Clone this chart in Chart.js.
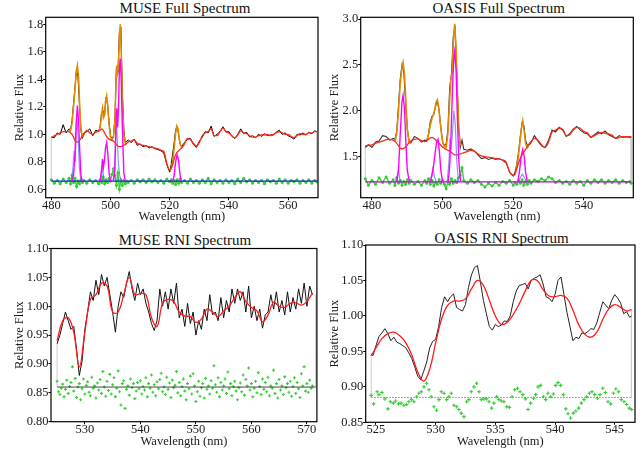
<!DOCTYPE html>
<html>
<head>
<meta charset="utf-8">
<script src="https://cdn.jsdelivr.net/npm/chart.js@4.4.1/dist/chart.umd.min.js"></script>
<style>
  body { margin: 0; background: #fff; width: 643px; height: 451px; position: relative; overflow: hidden; font-family: 'Liberation Serif', 'Times New Roman', serif; }
  canvas { position: absolute; }
  .ttl { position: absolute; font-size: 15px; line-height: 15px; color: #111; white-space: nowrap; transform: translateX(-50%); }
</style>
</head>
<body>
<div class="ttl" style="left:185px; top:0.7px">MUSE Full Spectrum</div>
<div class="ttl" style="left:498.7px; top:1.4px">OASIS Full Spectrum</div>
<div class="ttl" style="left:185px; top:233.1px">MUSE RNI Spectrum</div>
<div class="ttl" style="left:501.7px; top:230.7px">OASIS RNI Spectrum</div>
<canvas id="museFull" width="322" height="228" style="left:0; top:0"></canvas>
<canvas id="oasisFull" width="322" height="228" style="left:320px; top:0"></canvas>
<canvas id="museRni" width="322" height="226" style="left:0; top:225px"></canvas>
<canvas id="oasisRni" width="322" height="226" style="left:320px; top:225px"></canvas>
<script>
// ── MUSE full spectrum ───────────────────────────────────────────────────────
const museFullWave = [480, 481, 482, 483, 484, 485, 486,
  486.5, 487, 487.5, 488, 488.5, 489, 489.5, 490, 490.5, 491,
  492, 493, 494, 495, 496,
  496.5, 497, 497.5, 498, 498.5, 499, 499.5, 500, 500.5, 501, 501.5, 502, 502.5, 503, 503.5, 504, 504.5, 505, 505.5, 506,
  507, 508, 509, 510, 511, 512, 513, 514, 515, 516, 517, 518, 519, 520,
  520.5, 521, 521.5, 522, 522.5, 523, 523.5, 524,
  525, 526, 527, 528, 529, 530, 531, 532, 533, 534, 535, 536, 537, 538, 539, 540, 541, 542, 543, 544, 545, 546,
  547, 548, 549, 550, 551, 552, 553, 554, 555, 556, 557, 558, 559, 560, 561, 562, 563, 564, 565, 566, 567, 568, 569, 569.7];
const museFullFlux = [0.98, 0.975, 1.01, 1.00, 1.07, 1.01, 1.04,
  1.03, 1.10, 1.22, 1.34, 1.47, 1.42, 1.22, 1.03, 0.97, 1.01,
  1.02, 1.04, 0.99, 1.03, 1.02,
  1.06, 1.16, 1.17, 1.14, 1.27, 1.22, 1.09, 0.99, 0.96, 0.99, 1.12, 1.49, 1.45, 1.74, 1.78, 1.30, 1.03, 0.94, 0.95, 0.96,
  0.94, 0.965, 0.92, 0.93, 0.91, 0.92, 0.90, 0.91, 0.895, 0.89, 0.88, 0.865, 0.78, 0.725,
  0.78, 0.86, 0.94, 1.03, 1.06, 1.00, 0.93, 0.91,
  0.94, 0.965, 0.97, 0.925, 0.905, 0.95, 0.98, 1.02, 1.01, 1.06, 0.985, 1.00, 1.02, 1.055, 1.015, 1.02, 0.985, 0.97, 1.00, 1.04, 1.005, 1.015,
  0.98, 0.99, 0.975, 1.00, 0.985, 1.005, 0.99, 0.995, 0.995, 1.015, 1.03, 1.00, 1.01, 0.99, 0.98, 0.965, 1.00, 0.995, 1.01, 0.995, 1.015, 1.005, 1.025, 1.02];
const museFullCont = [0.975, 0.99, 1.00, 1.01, 1.02, 1.02, 1.02,
  1.01, 1.00, 0.98, 0.955, 0.945, 0.945, 0.955, 0.97, 0.985, 1.00,
  1.03, 1.01, 1.00, 1.015, 1.025,
  1.03, 1.04, 1.03, 1.01, 0.99, 0.975, 0.965, 0.96, 0.955, 0.95, 0.94, 0.925, 0.915, 0.91, 0.91, 0.915, 0.92, 0.925, 0.935, 0.945,
  0.95, 0.96, 0.935, 0.925, 0.92, 0.915, 0.91, 0.905, 0.90, 0.895, 0.885, 0.875, 0.79, 0.74,
  0.75, 0.78, 0.82, 0.85, 0.87, 0.88, 0.89, 0.90,
  0.93, 0.97, 0.96, 0.935, 0.915, 0.94, 0.99, 1.01, 1.02, 1.04, 0.99, 0.99, 1.02, 1.045, 1.02, 1.01, 0.99, 0.975, 0.995, 1.025, 1.01, 1.005,
  0.99, 0.98, 0.98, 0.99, 0.995, 0.995, 1.00, 0.99, 1.00, 1.01, 1.02, 1.01, 1.00, 1.00, 0.985, 0.975, 0.99, 1.005, 1.00, 1.00, 1.01, 1.01, 1.02, 1.02];
const museFullResid = [0.67, 0.645, 0.665, 0.64, 0.675, 0.65, 0.68,
  0.64, 0.70, 0.65, 0.68, 0.62, 0.66, 0.64, 0.67, 0.65, 0.665,
  0.645, 0.67, 0.65, 0.665, 0.64,
  0.67, 0.65, 0.69, 0.64, 0.67, 0.65, 0.68, 0.66, 0.71, 0.75, 0.70, 0.63, 0.72, 0.60, 0.67, 0.63, 0.665, 0.64, 0.66, 0.65,
  0.665, 0.645, 0.67, 0.655, 0.67, 0.65, 0.675, 0.655, 0.67, 0.65, 0.665, 0.645, 0.675, 0.655,
  0.67, 0.645, 0.665, 0.635, 0.67, 0.645, 0.675, 0.65,
  0.665, 0.645, 0.675, 0.65, 0.665, 0.645, 0.67, 0.65, 0.68, 0.64, 0.67, 0.65, 0.665, 0.645, 0.67, 0.65, 0.665, 0.64, 0.675, 0.65, 0.68, 0.655,
  0.67, 0.645, 0.665, 0.65, 0.665, 0.64, 0.67, 0.655, 0.665, 0.645, 0.675, 0.65, 0.67, 0.645, 0.665, 0.655, 0.67, 0.645, 0.665, 0.65, 0.67, 0.645, 0.665, 0.655];
const museFullTotalWave = [486, 486.5, 487, 487.5, 488, 488.4, 488.8, 489.2, 489.6, 490, 490.5, 491, 493,
  496, 496.5, 497, 497.3, 497.6, 498, 498.3, 498.7, 499.1, 499.5, 500, 500.5, 501, 501.5, 501.8, 502.1, 502.4, 502.7, 503.0, 503.3, 503.6, 504.0, 504.5, 505, 505.5, 512,
  520, 520.5, 521, 521.5, 522, 522.4, 522.8, 523.2, 523.6, 524, 524.5];
const museFullTotal = [1.02, 1.03, 1.08, 1.20, 1.33, 1.45, 1.50, 1.42, 1.20, 1.04, 0.985, 1.00, null,
  1.025, 1.05, 1.15, 1.19, 1.12, 1.14, 1.24, 1.28, 1.20, 1.07, 0.98, 0.96, 0.98, 1.10, 1.35, 1.50, 1.45, 1.50, 1.72, 1.80, 1.62, 1.25, 1.00, 0.93, 0.935, null,
  0.74, 0.75, 0.80, 0.90, 1.01, 1.06, 1.04, 0.97, 0.925, 0.905, 0.91];
const museFullLineWave = [487, 487.5, 488, 488.4, 488.8, 489.2, 489.6, 490, 490.5, 493,
  496.5, 497, 497.3, 497.6, 498, 498.3, 498.7, 499.1, 499.5, 500, 500.5,
  501, 501.5, 501.8, 502.1, 502.4, 502.7, 503.0, 503.3, 503.6, 504.0, 504.5, 505, 512,
  521, 521.5, 522, 522.5, 523, 523.5, 524];
const museFullLine = [0.66, 0.70, 0.86, 1.08, 1.21, 1.10, 0.88, 0.70, 0.66, null,
  0.66, 0.75, 0.82, 0.76, 0.82, 0.90, 0.94, 0.86, 0.72, 0.66, null,
  0.66, 0.75, 1.05, 1.19, 1.05, 1.20, 1.48, 1.55, 1.40, 1.05, 0.72, 0.66, null,
  0.66, 0.70, 0.80, 0.85, 0.81, 0.70, 0.66];
const museFullBroadWave = [486.8, 487.3, 487.7, 488.1, 488.6, 489, 489.5, 490, 493,
  496.8, 497.2, 497.6, 498, 499,
  500.8, 501.3, 501.7, 502.0, 502.3, 502.7, 503.1, 503.5];
const museFullBroad = [0.66, 0.75, 0.88, 0.80, 1.14, 1.00, 0.75, 0.66, null,
  0.66, 0.76, 0.70, 0.66, null,
  0.66, 0.72, 0.95, 1.12, 0.95, 0.78, 0.70, 0.66];
const museFullBaseWave = [480, 569.7];
const museFullBase = [0.66, 0.66];
const museFullEdgeWave = [480, 480, 480, 569.7, 569.7];
const museFullEdge = [0.66, 0.975, null, 1.02, 0.66];
const museFullXTicks = [480, 500, 520, 540, 560];
const museFullYTicks = [0.6, 0.8, 1.0, 1.2, 1.4, 1.6, 1.8];

// ── OASIS full spectrum ──────────────────────────────────────────────────────
const oasisFullWave = [478.1, 479, 480, 481, 482, 483, 484, 485, 486,
  486.5, 487, 487.5, 488, 488.5, 489, 489.5, 490, 490.5, 491,
  492, 493, 494, 495,
  495.5, 496, 496.5, 497, 497.5, 498, 498.5, 499, 499.5, 500, 500.5, 501, 501.5, 502, 502.5, 503, 503.5, 504, 504.5, 505, 505.5, 506,
  507, 508, 509, 510, 511, 512, 513, 514, 515, 516, 517, 518, 519, 520,
  520.5, 521, 521.5, 522, 522.5, 523, 523.5, 524, 524.5, 525,
  526, 527, 528, 529, 530, 531, 532, 533, 534, 535, 536, 537, 538, 539, 540, 541, 542, 543, 544, 545, 546, 547, 548, 549, 550, 551, 552, 553, 553.4];
const oasisFullFlux = [1.60, 1.63, 1.60, 1.66, 1.67, 1.73, 1.72, 1.68, 1.70,
  1.69, 1.78, 2.05, 2.35, 2.50, 2.42, 2.10, 1.80, 1.66, 1.65,
  1.72, 1.70, 1.66, 1.68,
  1.67, 1.75, 1.88, 1.94, 1.96, 2.05, 2.11, 2.00, 1.82, 1.66, 1.62, 1.64, 1.80, 2.25, 2.40, 2.80, 2.93, 2.40, 1.85, 1.60, 1.68, 1.58,
  1.57, 1.585, 1.56, 1.52, 1.48, 1.49, 1.47, 1.485, 1.47, 1.48, 1.46, 1.43, 1.33, 1.29,
  1.33, 1.42, 1.55, 1.72, 1.87, 1.84, 1.68, 1.62, 1.63, 1.65,
  1.73, 1.67, 1.62, 1.60, 1.68, 1.79, 1.77, 1.82, 1.79, 1.72, 1.75, 1.80, 1.83, 1.79, 1.76, 1.75, 1.71, 1.74, 1.77, 1.75, 1.78, 1.74, 1.72, 1.70, 1.73, 1.71, 1.72, 1.71, 1.72];
const oasisFullCont = [1.62, 1.625, 1.63, 1.645, 1.66, 1.67, 1.685, 1.69, 1.68,
  1.665, 1.645, 1.62, 1.595, 1.585, 1.59, 1.605, 1.63, 1.65, 1.67,
  1.69, 1.695, 1.675, 1.665,
  1.675, 1.69, 1.705, 1.71, 1.70, 1.685, 1.665, 1.645, 1.625, 1.605, 1.59, 1.58, 1.57, 1.56, 1.545, 1.53, 1.52, 1.52, 1.525, 1.53, 1.535, 1.545,
  1.555, 1.57, 1.56, 1.53, 1.51, 1.50, 1.495, 1.49, 1.48, 1.475, 1.465, 1.44, 1.33, 1.295,
  1.31, 1.37, 1.43, 1.48, 1.52, 1.55, 1.58, 1.61, 1.64, 1.665,
  1.70, 1.68, 1.63, 1.60, 1.66, 1.77, 1.79, 1.81, 1.80, 1.73, 1.74, 1.79, 1.82, 1.81, 1.775, 1.76, 1.715, 1.73, 1.75, 1.765, 1.755, 1.75, 1.735, 1.70, 1.71, 1.72, 1.715, 1.72, 1.72];
const oasisFullResid = [1.26, 1.19, 1.24, 1.20, 1.27, 1.22, 1.28, 1.21, 1.25,
  1.19, 1.27, 1.21, 1.24, 1.19, 1.23, 1.20, 1.25, 1.21, 1.24,
  1.20, 1.23, 1.19, 1.24,
  1.21, 1.26, 1.20, 1.24, 1.18, 1.22, 1.20, 1.25, 1.21, 1.24, 1.20, 1.15, 1.23, 1.20, 1.26, 1.21, 1.24, 1.22, 1.27, 1.30, 1.38, 1.24,
  1.21, 1.25, 1.22, 1.24, 1.20, 1.17, 1.21, 1.18, 1.22, 1.19, 1.23, 1.21, 1.24, 1.19,
  1.22, 1.20, 1.24, 1.21, 1.25, 1.19, 1.23, 1.20, 1.24, 1.21,
  1.25, 1.23, 1.26, 1.24, 1.28, 1.26, 1.22, 1.24, 1.21, 1.23, 1.20, 1.24, 1.21, 1.23, 1.19, 1.24, 1.21, 1.25, 1.22, 1.25, 1.21, 1.24, 1.22, 1.25, 1.21, 1.24, 1.22, 1.23, 1.21];
const oasisFullTotalWave = [486.5, 487, 487.5, 488, 488.5, 488.8, 489.2, 489.6, 490, 490.5, 491, 493,
  495.5, 496, 496.5, 497, 497.4, 497.8, 498.2, 498.5, 498.9, 499.3, 499.7, 500.1, 500.5, 501, 501.5, 501.9, 502.3, 502.7, 503.1, 503.4, 503.8, 504.2, 504.6, 505, 512,
  520.8, 521.3, 521.8, 522.3, 522.7, 523.1, 523.5, 524, 524.4];
const oasisFullTotal = [1.67, 1.75, 2.00, 2.30, 2.48, 2.53, 2.40, 2.10, 1.80, 1.66, 1.66, null,
  1.68, 1.74, 1.84, 1.92, 1.96, 2.02, 2.10, 2.12, 2.04, 1.88, 1.74, 1.65, 1.61, 1.60, 1.75, 2.05, 2.33, 2.42, 2.80, 2.95, 2.70, 2.20, 1.80, 1.62, null,
  1.36, 1.45, 1.62, 1.80, 1.89, 1.78, 1.64, 1.60, 1.62];
const oasisFullLineWave = [487, 487.5, 488, 488.5, 488.8, 489.2, 489.6, 490, 490.6, 493,
  496.5, 497, 497.5, 497.9, 498.3, 498.7, 499.1, 499.5, 500, 501,
  501.6, 502, 502.4, 502.8, 503.2, 503.4, 503.8, 504.2, 504.6, 505.1, 512,
  521.3, 521.8, 522.3, 522.7, 523.1, 523.5, 524];
const oasisFullLine = [1.225, 1.35, 1.75, 2.10, 2.17, 2.02, 1.65, 1.35, 1.225, null,
  1.225, 1.30, 1.42, 1.55, 1.66, 1.69, 1.55, 1.35, 1.225, null,
  1.225, 1.40, 1.75, 2.25, 2.60, 2.65, 2.45, 1.90, 1.45, 1.225, null,
  1.225, 1.35, 1.52, 1.58, 1.50, 1.33, 1.225];
const oasisFullBroadWave = [486.8, 487.2, 487.5, 487.9, 488.4, 493,
  496.5, 497, 497.3, 497.7, 498.2, 500,
  501.3, 501.8, 502.1, 502.4, 502.8, 503.2, 503.6, 504.0, 504.5, 512,
  521.3, 522, 522.6, 523.2, 523.8];
const oasisFullBroad = [1.225, 1.30, 1.36, 1.25, 1.225, null,
  1.225, 1.32, 1.38, 1.28, 1.225, null,
  1.225, 1.45, 1.70, 1.60, 1.75, 2.00, 1.85, 1.45, 1.225, null,
  1.225, 1.27, 1.31, 1.27, 1.225];
const oasisFullBaseWave = [478.1, 553.4];
const oasisFullBase = [1.225, 1.225];
const oasisFullEdgeWave = [478.1, 478.1, 478.1, 553.4, 553.4];
const oasisFullEdge = [1.225, 1.62, null, 1.72, 1.225];
const oasisFullXTicks = [480, 500, 520, 540];
const oasisFullYTicks = [1.5, 2.0, 2.5, 3.0];

// ── MUSE RNI spectrum ────────────────────────────────────────────────────────
const museRniWave = [525, 525.5, 526, 526.5, 527, 527.5, 528, 528.5, 529, 529.5,
  530, 530.5, 531, 531.5, 532, 532.5, 533, 533.5, 534, 534.5,
  535, 535.5, 536, 536.5, 537, 537.5, 538, 538.5, 539, 539.5,
  540, 540.5, 541, 541.5, 542, 542.5, 543, 543.5, 544, 544.5,
  545, 545.5, 546, 546.5, 547, 547.5, 548, 548.5, 549, 549.5,
  550, 550.5, 551, 551.5, 552, 552.5, 553, 553.5, 554, 554.5,
  555, 555.5, 556, 556.5, 557, 557.5, 558, 558.5, 559, 559.5,
  560, 560.5, 561, 561.5, 562, 562.5, 563, 563.5, 564, 564.5,
  565, 565.5, 566, 566.5, 567, 567.5, 568, 568.5, 569, 569.5,
  570, 570.5, 571];
const museRniFlux = [0.935, 0.95, 0.97, 0.99, 0.975, 0.96, 0.965, 0.925, 0.88, 0.905,
  0.96, 0.99, 1.025, 1.01, 1.045, 1.02, 1.055, 1.035, 1.05, 1.02,
  0.99, 0.955, 1.00, 1.025, 1.015, 1.04, 1.06, 1.03, 1.01, 1.04,
  1.02, 1.03, 1.005, 0.99, 0.97, 0.958, 0.975, 1.03, 1.0, 1.025,
  0.995, 1.03, 1.005, 1.04, 0.98, 0.995, 0.965, 1.005, 0.97, 0.99,
  0.95, 0.975, 0.96, 0.995, 0.975, 1.02, 0.985, 0.99, 0.975, 1.015,
  0.98, 1.01, 0.99, 1.03, 1.005, 1.03, 1.01, 1.025, 0.99, 1.035,
  0.98, 1.0, 0.975, 0.995, 0.962, 0.985, 0.99, 1.02, 0.995, 1.025,
  0.99, 1.01, 0.985, 1.025, 0.99, 1.015, 0.995, 1.03, 1.005, 1.04,
  1.0, 1.035, 1.02];
const museRniContWave = [525, 526, 527, 528, 529, 530, 531, 532, 533, 534, 535, 536, 537, 538, 539, 540,
  541, 542, 543, 544, 545, 546, 547, 548, 549, 550, 551, 552, 553, 554, 555, 556,
  557, 558, 559, 560, 561, 562, 563, 564, 565, 566, 567, 568, 569, 570, 571];
const museRniCont = [0.94, 0.975, 0.98, 0.955, 0.895, 0.955, 1.012, 1.02, 1.04, 1.035, 0.99, 0.99, 1.02, 1.05, 1.02, 1.022,
  1.02, 0.98, 0.965, 1.005, 1.012, 1.008, 0.99, 0.983, 0.982, 0.972, 0.978, 0.995, 0.99, 0.982, 0.992, 1.00,
  1.015, 1.025, 1.008, 0.998, 0.992, 0.973, 0.985, 1.007, 1.0, 0.998, 1.005, 1.006, 1.002, 1.008, 1.023];
const museRniResidWave = [525, 525.25, 525.5, 525.75, 526, 526.25, 526.5, 526.75, 527, 527.25,
  527.5, 527.75, 528, 528.25, 528.5, 528.75, 529, 529.25, 529.5, 529.75,
  530, 530.25, 530.5, 530.75, 531, 531.25, 531.5, 531.75, 532, 532.25,
  532.5, 532.75, 533, 533.25, 533.5, 533.75, 534, 534.25, 534.5, 534.75,
  535, 535.25, 535.5, 535.75, 536, 536.25, 536.5, 536.75, 537, 537.25,
  537.5, 537.75, 538, 538.25, 538.5, 538.75, 539, 539.25, 539.5, 539.75,
  540, 540.25, 540.5, 540.75, 541, 541.25, 541.5, 541.75, 542, 542.25,
  542.5, 542.75, 543, 543.25, 543.5, 543.75, 544, 544.25, 544.5, 544.75,
  545, 545.25, 545.5, 545.75, 546, 546.25, 546.5, 546.75, 547, 547.25,
  547.5, 547.75, 548, 548.25, 548.5, 548.75, 549, 549.25, 549.5, 549.75,
  550, 550.25, 550.5, 550.75, 551, 551.25, 551.5, 551.75, 552, 552.25,
  552.5, 552.75, 553, 553.25, 553.5, 553.75, 554, 554.25, 554.5, 554.75,
  555, 555.25, 555.5, 555.75, 556, 556.25, 556.5, 556.75, 557, 557.25,
  557.5, 557.75, 558, 558.25, 558.5, 558.75, 559, 559.25, 559.5, 559.75,
  560, 560.25, 560.5, 560.75, 561, 561.25, 561.5, 561.75, 562, 562.25,
  562.5, 562.75, 563, 563.25, 563.5, 563.75, 564, 564.25, 564.5, 564.75,
  565, 565.25, 565.5, 565.75, 566, 566.25, 566.5, 566.75, 567, 567.25,
  567.5, 567.75, 568, 568.25, 568.5, 568.75, 569, 569.25, 569.5, 569.75,
  570, 570.25, 570.5, 570.75, 571];
const museRniResid = [0.870, 0.852, 0.847, 0.858, 0.865, 0.843, 0.856, 0.872, 0.849, 0.861,
  0.868, 0.895, 0.853, 0.875, 0.842, 0.860, 0.866, 0.838, 0.857, 0.874,
  0.848, 0.863, 0.869, 0.851, 0.845, 0.877, 0.858, 0.862, 0.841, 0.867,
  0.855, 0.873, 0.849, 0.887, 0.860, 0.844, 0.870, 0.854, 0.882, 0.848,
  0.864, 0.876, 0.843, 0.858, 0.888, 0.852, 0.829, 0.866, 0.871, 0.823,
  0.856, 0.862, 0.846, 0.874, 0.859, 0.866, 0.840, 0.853, 0.868, 0.857,
  0.871, 0.848, 0.861, 0.855, 0.876, 0.843, 0.866, 0.858, 0.881, 0.851,
  0.864, 0.845, 0.869, 0.857, 0.873, 0.884, 0.852, 0.860, 0.847, 0.877,
  0.856, 0.867, 0.842, 0.872, 0.859, 0.863, 0.887, 0.850, 0.868, 0.845,
  0.861, 0.874, 0.853, 0.838, 0.866, 0.857, 0.879, 0.848, 0.883, 0.862,
  0.835, 0.852, 0.870, 0.844, 0.859, 0.866, 0.841, 0.875, 0.856, 0.862,
  0.848, 0.871, 0.858, 0.897, 0.864, 0.851, 0.876, 0.843, 0.868, 0.855,
  0.862, 0.874, 0.849, 0.886, 0.857, 0.866, 0.845, 0.861, 0.870, 0.853,
  0.838, 0.859, 0.867, 0.852, 0.881, 0.846, 0.873, 0.862, 0.893, 0.855,
  0.866, 0.843, 0.858, 0.870, 0.850, 0.885, 0.861, 0.847, 0.874, 0.856,
  0.868, 0.852, 0.877, 0.845, 0.862, 0.858, 0.889, 0.849, 0.866, 0.841,
  0.873, 0.855, 0.862, 0.847, 0.878, 0.859, 0.866, 0.851, 0.870, 0.844,
  0.861, 0.876, 0.849, 0.868, 0.857, 0.842, 0.883, 0.862, 0.895, 0.853,
  0.866, 0.851, 0.872, 0.858, 0.862];
const museRniBaseWave = [525, 571.6];
const museRniBase = [0.86, 0.86];
const museRniEdgeWave = [525, 525, 525, 571.6, 571.6];
const museRniEdge = [0.86, 0.935, null, 1.02, 0.86];
const museRniXTicks = [530, 540, 550, 560, 570];
const museRniYTicks = [0.80, 0.85, 0.90, 0.95, 1.00, 1.05, 1.10];

// ── OASIS RNI spectrum ───────────────────────────────────────────────────────
const oasisRniWave = [524.6, 524.75, 525, 525.25, 525.5, 525.75, 526, 526.25, 526.5, 526.75,
  527, 527.25, 527.5, 527.75, 528, 528.25, 528.5, 528.75, 529, 529.25,
  529.5, 529.75, 530, 530.25, 530.5, 530.75, 531, 531.25, 531.5, 531.75,
  532, 532.25, 532.5, 532.75, 533, 533.25, 533.5, 533.75, 534, 534.25,
  534.5, 534.75, 535, 535.25, 535.5, 535.75, 536, 536.25, 536.5, 536.75,
  537, 537.25, 537.5, 537.75, 538, 538.25, 538.5, 538.75, 539, 539.25,
  539.5, 539.75, 540, 540.25, 540.5, 540.75, 541, 541.25, 541.5, 541.75,
  542, 542.25, 542.5, 542.75, 543, 543.25, 543.5, 543.75, 544, 544.25,
  544.5, 544.75, 545, 545.25, 545.5, 545.75, 546, 546.25, 546.4];
const oasisRniFlux = [0.946, 0.944, 0.958, 0.971, 0.976, 0.982, 0.975, 0.965, 0.970, 0.963,
  0.961, 0.958, 0.955, 0.948, 0.940, 0.928, 0.915, 0.910, 0.922, 0.935,
  0.955, 0.964, 0.967, 0.985, 1.012, 1.027, 1.020, 1.027, 1.031, 1.012,
  1.009, 1.007, 1.016, 1.040, 1.058, 1.068, 1.071, 1.048, 1.022, 1.003,
  0.985, 0.980, 0.988, 0.985, 0.987, 0.993, 0.992, 1.000, 1.020, 1.035,
  1.043, 1.044, 1.046, 1.038, 1.050, 1.053, 1.055, 1.058, 1.045, 1.027,
  1.025, 1.020, 1.030, 1.050, 1.055, 1.030, 1.005, 0.985, 0.965, 0.970,
  0.968, 0.976, 0.975, 0.978, 0.982, 0.981, 0.990, 1.005, 1.020, 1.015,
  1.010, 1.022, 1.030, 1.025, 1.018, 1.003, 1.006, 0.998, 1.000];
const oasisRniContWave = [524.6, 525, 525.5, 526, 526.5, 527, 527.5, 528, 528.5, 529, 529.5, 530, 530.5, 531, 531.5,
  532, 532.5, 533, 533.5, 534, 534.5, 535, 535.5, 536, 536.5, 537, 537.5, 538, 538.5, 539,
  539.5, 540, 540.5, 541, 541.5, 542, 542.5, 543, 543.5, 544, 544.5, 545, 545.5, 546, 546.4];
const oasisRniCont = [0.944, 0.955, 0.968, 0.975, 0.977, 0.972, 0.962, 0.945, 0.921, 0.908, 0.925, 0.962, 0.996, 1.015, 1.021,
  1.021, 1.024, 1.038, 1.050, 1.043, 1.022, 1.000, 0.988, 0.991, 1.002, 1.017, 1.035, 1.050, 1.050, 1.037,
  1.028, 1.027, 1.029, 1.025, 1.008, 0.987, 0.974, 0.970, 0.977, 0.995, 1.010, 1.016, 1.012, 1.007, 1.009];
const oasisRniResidWave = [524.6, 524.8, 525.1, 525.25, 525.5, 525.75, 526.0, 526.2, 526.45, 526.64,
  526.9, 527.1, 527.34, 527.57, 527.76, 527.98, 528.18, 528.4, 528.6, 528.8,
  529.02, 529.24, 529.44, 529.63, 529.86, 530.08, 530.28, 530.47, 530.7, 530.92,
  531.1, 531.31, 531.53, 531.76, 531.95, 532.15, 532.37, 532.6, 532.79, 532.98,
  533.21, 533.43, 533.63, 533.82, 534.05, 534.27, 534.47, 534.69, 534.88, 535.11,
  535.3, 535.5, 535.72, 535.95, 536.17, 536.4, 536.62, 536.85, 537.07, 537.3,
  537.52, 537.74, 537.96, 538.19, 538.38, 538.58, 538.8, 539.02, 539.22, 539.41,
  539.64, 539.86, 540.06, 540.25, 540.47, 540.7, 540.9, 541.09, 541.3, 541.53,
  541.75, 541.98, 542.2, 542.43, 542.65, 542.87, 543.1, 543.32, 543.55, 543.77,
  544.0, 544.22, 544.44, 544.67, 544.89, 545.1, 545.33, 545.55, 545.78, 546.0,
  546.22, 546.42];
const oasisRniResid = [0.888, 0.876, 0.893, 0.889, 0.892, 0.883, 0.869, 0.879, 0.877, 0.880,
  0.876, 0.877, 0.874, 0.875, 0.879, 0.882, 0.879, 0.886, 0.891, 0.893,
  0.900, 0.905, 0.896, 0.886, 0.872, 0.867, 0.882, 0.893, 0.891, 0.882,
  0.886, 0.891, 0.874, 0.872, 0.868, 0.863, 0.858, 0.879, 0.882, 0.893,
  0.900, 0.905, 0.893, 0.882, 0.883, 0.883, 0.879, 0.870, 0.877, 0.886,
  0.882, 0.880, 0.879, 0.872, 0.871, 0.886, 0.896, 0.898, 0.893, 0.889,
  0.883, 0.868, 0.877, 0.884, 0.889, 0.900, 0.902, 0.886, 0.882, 0.891,
  0.886, 0.890, 0.902, 0.906, 0.902, 0.889, 0.869, 0.862, 0.856, 0.863,
  0.866, 0.870, 0.877, 0.882, 0.886, 0.891, 0.893, 0.889, 0.884, 0.889,
  0.898, 0.892, 0.879, 0.876, 0.891, 0.897, 0.893, 0.882, 0.879, 0.875,
  0.870, 0.868];
const oasisRniBaseWave = [524.6, 546.4];
const oasisRniBase = [0.885, 0.885];
const oasisRniEdgeWave = [524.6, 524.6, 524.6, 546.4, 546.4];
const oasisRniEdge = [0.885, 0.944, null, 1.009, 0.885];
const oasisRniXTicks = [525, 530, 535, 540, 545];
const oasisRniYTicks = [0.85, 0.90, 0.95, 1.00, 1.05, 1.10];

// ── shared chart plumbing ────────────────────────────────────────────────────
Chart.defaults.font.family = "'Liberation Serif', 'Times New Roman', serif";
Chart.defaults.color = '#1a1a1a';

const xy = (xs, ys) => xs.map((x, i) => ({ x, y: ys[i] }));

const line = (data, color, width, extra = {}) => ({
  data, borderColor: color, borderWidth: width, pointRadius: 0, showLine: true, fill: false, tension: 0, ...extra,
});
const dots = (data, color, r, extra = {}) => ({
  data, showLine: false, pointRadius: r, pointStyle: 'cross', borderColor: color, pointBorderWidth: 1.1, ...extra,
});

// box around the plot area (top/right edges have no axis of their own)
const frame = {
  id: 'frame',
  afterDraw(chart) {
    const { ctx, chartArea: a } = chart;
    ctx.save();
    ctx.strokeStyle = '#000';
    ctx.lineWidth = 1.2;
    ctx.strokeRect(a.left, a.top, a.right - a.left, a.bottom - a.top);
    ctx.restore();
  },
};

function panel(id, o) {
  const tickFont = { size: 12.5, lineHeight: 1 };
  const titleFont = { size: 12.5 };
  return new Chart(document.getElementById(id), {
    type: 'scatter',
    data: { datasets: o.datasets },
    options: {
      responsive: false, animation: false, devicePixelRatio: 1, events: [],
      layout: { padding: o.pad },
      plugins: { legend: { display: false }, tooltip: { enabled: false } },
      scales: {
        x: {
          type: 'linear', min: o.x[0], max: o.x[1],
          afterFit: (s) => { s.height = o.axisH; },
          afterBuildTicks: (s) => { s.ticks = o.xTicks.map((v) => ({ value: v })); },
          ticks: { font: tickFont, padding: -1, maxRotation: 0, autoSkip: false, callback: (v) => String(v) },
          grid: { display: true, drawOnChartArea: false, drawTicks: true, tickLength: 2.5, color: '#000' },
          border: { display: false },
          title: { display: true, text: 'Wavelength (nm)', font: titleFont, padding: { top: 0, bottom: o.xTitlePad } },
        },
        y: {
          type: 'linear', min: o.y[0], max: o.y[1],
          afterFit: (s) => { s.width = o.axisW; },
          afterBuildTicks: (s) => { s.ticks = o.yTicks.map((v) => ({ value: v })); },
          ticks: { font: tickFont, padding: 0, autoSkip: false, callback: (v) => v.toFixed(o.yDec) },
          grid: { display: true, drawOnChartArea: false, drawTicks: true, tickLength: 2.5, color: '#000' },
          border: { display: false },
          title: { display: true, text: 'Relative Flux', font: titleFont, padding: { top: o.yTitlePad, bottom: 0 } },
        },
      },
    },
    plugins: [frame],
  });
}

const RED = '#ff2a14', ORANGE = '#e08c00', MAGENTA = '#ff00ff', LAVENDER = 'rgba(100,100,255,0.7)';
const GREEN = '#33cc33', GRAY = '#cccccc';
const band = { pointRadius: 1.5, pointStyle: 'circle', pointBackgroundColor: GREEN, pointBorderWidth: 0 };

panel('museFull', {
  x: [478.1, 570.1], y: [0.539, 1.851], xTicks: museFullXTicks, yTicks: museFullYTicks, yDec: 1,
  pad: { left: 0, right: 3.7, top: 17.3, bottom: 0 }, axisW: 45.7, axisH: 30.3, yTitlePad: 12.5, xTitlePad: 3.8,
  datasets: [
    line(xy(museFullLineWave, museFullLine), MAGENTA, 1.4),
    line(xy(museFullBroadWave, museFullBroad), LAVENDER, 1.2),
    line(xy(museFullWave, museFullCont), RED, 1.3, { cubicInterpolationMode: 'monotone' }),
    line(xy(museFullTotalWave, museFullTotal), ORANGE, 1.6),
    line(xy(museFullWave, museFullFlux), '#000', 1),
    line(xy(museFullBaseWave, museFullBase), '#1a1aff', 1.2),
    line(xy(museFullWave, museFullResid), GREEN, 1.3, band),
    line(xy(museFullEdgeWave, museFullEdge), GRAY, 1),
  ],
});

panel('oasisFull', {
  x: [476.8, 554.0], y: [1.053, 3.02], xTicks: oasisFullXTicks, yTicks: oasisFullYTicks, yDec: 1,
  pad: { left: 0, right: 8.7, top: 17.3, bottom: 0 }, axisW: 40.7, axisH: 30.3, yTitlePad: 6.8, xTitlePad: 3.8,
  datasets: [
    line(xy(oasisFullLineWave, oasisFullLine), MAGENTA, 1.4),
    line(xy(oasisFullBroadWave, oasisFullBroad), LAVENDER, 1.2),
    line(xy(oasisFullWave, oasisFullCont), RED, 1.3, { cubicInterpolationMode: 'monotone' }),
    line(xy(oasisFullTotalWave, oasisFullTotal), ORANGE, 1.6),
    line(xy(oasisFullWave, oasisFullFlux), '#333', 1.1),
    line(xy(oasisFullBaseWave, oasisFullBase), '#c000d8', 1.2),
    line(xy(oasisFullWave, oasisFullResid), GREEN, 1.3, band),
    line(xy(oasisFullEdgeWave, oasisFullEdge), GRAY, 1),
  ],
});

panel('museRni', {
  x: [523.9, 571.8], y: [0.80, 1.10], xTicks: museRniXTicks, yTicks: museRniYTicks, yDec: 2,
  pad: { left: 0, right: 3.7, top: 23.5, bottom: 0 }, axisW: 51, axisH: 29.3, yTitlePad: 12.5, xTitlePad: 1.8,
  datasets: [
    line(xy(museRniContWave, museRniCont), '#ff1a1a', 1.3, { tension: 0.4 }),
    line(xy(museRniWave, museRniFlux), '#111', 1),
    line(xy(museRniBaseWave, museRniBase), '#333', 0.9),
    dots(xy(museRniResidWave, museRniResid), GREEN, 1.5),
    line(xy(museRniEdgeWave, museRniEdge), GRAY, 1),
  ],
});

panel('oasisRni', {
  x: [524.14, 546.7], y: [0.85, 1.10], xTicks: oasisRniXTicks, yTicks: oasisRniYTicks, yDec: 2,
  pad: { left: 0, right: 7, top: 20, bottom: 0 }, axisW: 45.7, axisH: 28.7, yTitlePad: 6.8, xTitlePad: 1.8,
  datasets: [
    line(xy(oasisRniContWave, oasisRniCont), '#ff1a1a', 1.3, { tension: 0.4 }),
    line(xy(oasisRniWave, oasisRniFlux), '#222', 1),
    line(xy(oasisRniBaseWave, oasisRniBase), '#888', 1, { borderDash: [1.5, 1.5] }),
    dots(xy(oasisRniResidWave, oasisRniResid), GREEN, 1.8),
    line(xy(oasisRniEdgeWave, oasisRniEdge), GRAY, 1),
  ],
});
</script>
</body>
</html>
